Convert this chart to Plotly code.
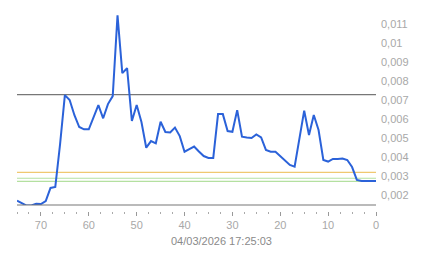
import plotly.graph_objects as go

x_vals = list(range(75, -1, -1))
y_vals = [
    0.0017, 0.00158, 0.00144, 0.00145, 0.00153, 0.00152, 0.00168, 0.00237, 0.00242, 0.00468,
    0.00726, 0.0070, 0.0062, 0.00558, 0.00546, 0.00546, 0.0061, 0.00674, 0.00604, 0.00679,
    0.00721, 0.01147, 0.00842, 0.00868, 0.0059, 0.00674, 0.00584, 0.00449, 0.00484, 0.00472,
    0.00586, 0.00532, 0.00529, 0.00555, 0.0051, 0.00428, 0.00442, 0.00455, 0.00429, 0.00405,
    0.00395, 0.00395, 0.00626, 0.00626, 0.00537, 0.00533, 0.00647, 0.00507, 0.00503, 0.0050,
    0.00519, 0.00503, 0.00437, 0.00428, 0.00428, 0.00405, 0.00384, 0.00358, 0.00349, 0.0050,
    0.00644, 0.00516, 0.00621, 0.00542, 0.00384, 0.00376, 0.0039, 0.0039, 0.00392, 0.00384,
    0.00347, 0.00279, 0.00274, 0.00274, 0.00274, 0.00274,
]

ref_levels = [0.00729, 0.00319, 0.00288, 0.00272]
ref_colors = ["#777777", "#f0c870", "#b4e0a0", "#b4e0a0"]

y_ticks = [0.002, 0.003, 0.004, 0.005, 0.006, 0.007, 0.008, 0.009, 0.01, 0.011]
y_ticktext = ["0,002", "0,003", "0,004", "0,005", "0,006", "0,007", "0,008", "0,009", "0,01", "0,011"]

timestamp = "04/03/2026 17:25:03"

fig = go.Figure()
fig.add_trace(go.Scatter(
    x=x_vals, y=y_vals, mode="lines",
    line=dict(color="#2b62d9", width=2),
    hoverinfo="skip", showlegend=False,
))

shapes = []
for lvl, col in zip(ref_levels, ref_colors):
    shapes.append(dict(type="line", xref="paper", yref="y", x0=0, x1=1, y0=lvl, y1=lvl,
                       line=dict(color=col, width=1.2), layer="below"))
# bottom axis line
shapes.append(dict(type="line", xref="paper", yref="y domain", x0=0, x1=1, y0=0, y1=0,
                   line=dict(color="#777777", width=1.2)))

fig.update_layout(
    width=443, height=258,
    margin=dict(l=17, r=67, t=9, b=47),
    paper_bgcolor="white", plot_bgcolor="white",
    font=dict(family="Liberation Sans, Arial, sans-serif", size=11, color="#a8a8a8"),
    shapes=shapes,
    xaxis=dict(
        range=[75, 0], showgrid=False, zeroline=False, showline=False,
        anchor="free", position=0,
        tickmode="linear", tick0=0, dtick=10,
        ticks="outside", ticklen=4, tickwidth=1, tickcolor="#999999",
        minor=dict(dtick=2.5, tick0=0, ticks="outside", ticklen=2, tickcolor="#aaaaaa", showgrid=False),
        tickfont=dict(size=11, color="#a8a8a8"),
    ),
    yaxis=dict(
        range=[0.00147, 0.0118], domain=[0.0297, 1], side="right",
        showgrid=False, zeroline=False, showline=False,
        tickmode="array", tickvals=y_ticks, ticktext=y_ticktext,
        ticks="", ticklabelstandoff=4,
        tickfont=dict(size=11, color="#a8a8a8"),
    ),
    annotations=[dict(text=timestamp, xref="paper", yref="paper", x=0.5696, y=-0.147,
                      xanchor="center", yanchor="middle", showarrow=False,
                      font=dict(size=11, color="#8a8a8a"))],
)

fig.write_html("out.html")
